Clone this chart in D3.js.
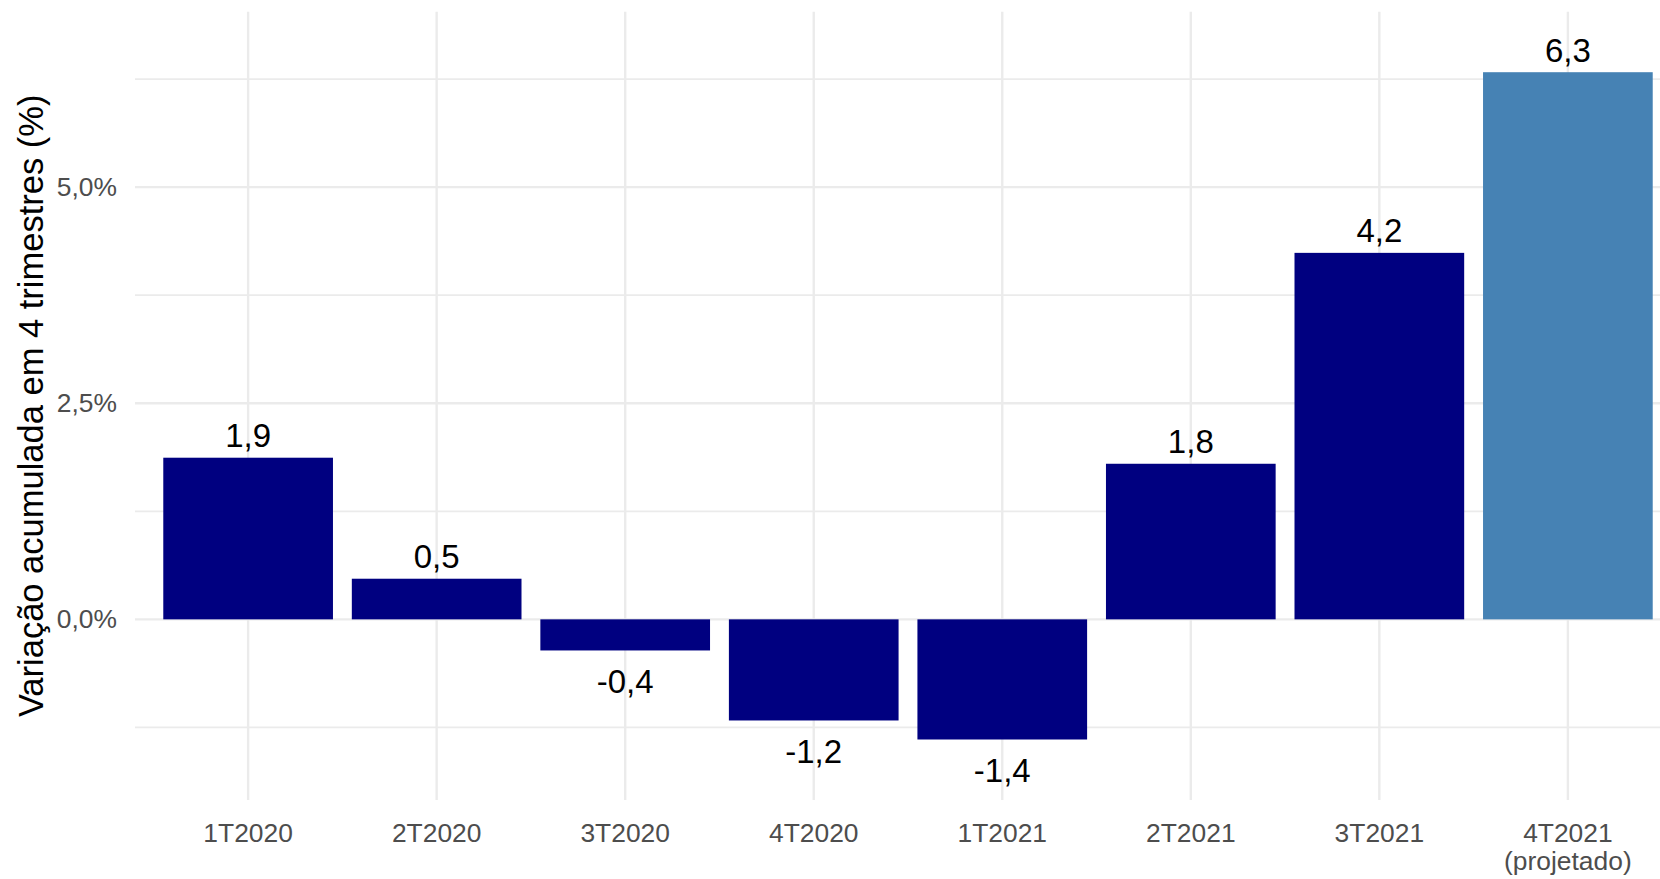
<!DOCTYPE html>
<html>
<head>
<meta charset="utf-8">
<script src="https://cdn.jsdelivr.net/npm/d3@7"></script>
<style>
  html, body { margin: 0; padding: 0; background: #fff; }
  svg { display: block; font-family: "Liberation Sans", Arial, sans-serif; }
</style>
</head>
<body>
<svg id="chart" width="1660" height="879"></svg>
<script>
// data
var categories = ["1T2020", "2T2020", "3T2020", "4T2020", "1T2021", "2T2021", "3T2021", "4T2021"];
var tickLabels = ["1T2020", "2T2020", "3T2020", "4T2020", "1T2021", "2T2021", "3T2021", "4T2021\n(projetado)"];
var values = [1.87, 0.47, -0.36, -1.17, -1.39, 1.80, 4.24, 6.33];
var projected = [false, false, false, false, false, false, false, true];
var majorTicks = [0, 2.5, 5];
var minorTicks = [-1.25, 1.25, 3.75, 6.25];
var yTitle = "Variação acumulada em 4 trimestres (%)";

var svg = d3.select("#chart");
var panel = {left: 135, right: 1681, top: 11.7, bottom: 800};

// pt-BR style numbers, plain hyphen for negatives
var pt = d3.formatLocale({decimal: ",", thousands: ".", grouping: [3], currency: ["R$", ""], minus: "-"});
var fmtLabel = pt.format(".1f");
var fmtTick = function(d) { return pt.format(".1f")(d) + "%"; };

var x = d3.scaleBand().domain(categories).range([panel.left, panel.right])
          .paddingInner(0.1).paddingOuter(0.15);
var y = d3.scaleLinear().domain([-2.09, 7.03]).range([panel.bottom, panel.top]);

var data = categories.map(function(c, i) { return {cat: c, value: values[i], proj: projected[i], tick: tickLabels[i]}; });

// grid
var grid = svg.append("g");
grid.selectAll("line.minor").data(minorTicks).enter().append("line").attr("class", "minor")
    .attr("x1", panel.left).attr("x2", panel.right)
    .attr("y1", function(d) { return y(d); }).attr("y2", function(d) { return y(d); })
    .attr("stroke", "#ebebeb").attr("stroke-width", 1.8);
grid.selectAll("line.major").data(majorTicks).enter().append("line").attr("class", "major")
    .attr("x1", panel.left).attr("x2", panel.right)
    .attr("y1", function(d) { return y(d); }).attr("y2", function(d) { return y(d); })
    .attr("stroke", "#ebebeb").attr("stroke-width", 2.4);
grid.selectAll("line.vert").data(categories).enter().append("line").attr("class", "vert")
    .attr("x1", function(d) { return x(d) + x.bandwidth() / 2; })
    .attr("x2", function(d) { return x(d) + x.bandwidth() / 2; })
    .attr("y1", panel.top).attr("y2", panel.bottom)
    .attr("stroke", "#ebebeb").attr("stroke-width", 2.4);

// bars
svg.append("g").selectAll("rect").data(data).enter().append("rect")
    .attr("x", function(d) { return x(d.cat); })
    .attr("width", x.bandwidth())
    .attr("y", function(d) { return y(Math.max(0, d.value)); })
    .attr("height", function(d) { return Math.abs(y(d.value) - y(0)); })
    .attr("fill", function(d) { return d.proj ? "#4682b4" : "#000080"; });

// value labels
svg.append("g").selectAll("text").data(data).enter().append("text")
    .attr("x", function(d) { return x(d.cat) + x.bandwidth() / 2; })
    .attr("y", function(d) { return d.value >= 0 ? y(d.value) - 10.7 : y(d.value) + 42.6; })
    .attr("text-anchor", "middle").attr("font-size", 33).attr("fill", "#000")
    .text(function(d) { return fmtLabel(Math.round(d.value * 10) / 10); });

// y axis
var yAxis = svg.append("g").attr("transform", "translate(" + 117 + ",0)")
    .call(d3.axisLeft(y).tickValues(majorTicks).tickFormat(fmtTick).tickSize(0).tickPadding(0));
yAxis.select(".domain").remove();
yAxis.selectAll("text").attr("font-size", 26.4).attr("fill", "#4d4d4d")
    .attr("font-family", "Liberation Sans, Arial, sans-serif");

// x axis, multi-line labels
var xAxis = svg.append("g").attr("transform", "translate(0," + panel.bottom + ")")
    .call(d3.axisBottom(x).tickSize(0).tickFormat(""));
xAxis.select(".domain").remove();
xAxis.selectAll(".tick").each(function(d, i) {
  var lines = tickLabels[i].split("\n");
  var t = d3.select(this).append("text").attr("text-anchor", "middle")
      .attr("font-size", 26.4).attr("fill", "#4d4d4d")
      .attr("font-family", "Liberation Sans, Arial, sans-serif");
  lines.forEach(function(l, j) {
    t.append("tspan").attr("x", 0).attr("y", 42 + j * 27.5).text(l);
  });
});

// axis title
svg.append("text")
    .attr("transform", "translate(43," + ((panel.top + panel.bottom) / 2) + ") rotate(-90)")
    .attr("text-anchor", "middle").attr("font-size", 34.5).attr("fill", "#000")
    .text(yTitle);
</script>
</body>
</html>
